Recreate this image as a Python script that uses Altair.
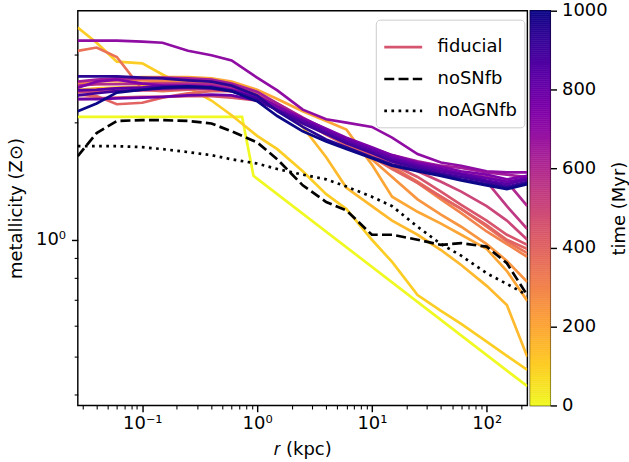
import altair as alt
import pandas as pd

# radial bins (kpc) shared by the profiles
R_GRID = [0.0274, 0.04, 0.06, 0.1, 0.15, 0.25, 0.4, 0.6, 1.0, 1.5, 2.5, 4, 6,
          10, 15, 25, 40, 60, 100, 150, 226]

# fiducial run: snapshot times (Myr) and metallicity profiles (Zsun)
TIMES = [100, 150, 200, 250, 300, 350, 400, 450, 500, 550, 600, 650, 700,
         750, 800, 850, 900, 950, 1000]
Z_PROFILES = [
    [3.51, 3.21, 2.87, 2.84, 2.66, 2.46, 2.28, 2.09, 1.85, 1.71, 1.50, 1.31, 1.20, 1.00, 0.877, 0.721, 0.656, 0.608, 0.547, 0.503, 0.463],
    [2.43, 2.45, 2.46, 2.48, 2.49, 2.51, 2.49, 2.45, 2.35, 2.19, 1.95, 1.63, 1.36, 1.22, 1.12, 1.03, 0.941, 0.861, 0.761, 0.680, 0.500],
    [2.52, 2.56, 2.60, 2.62, 2.62, 2.62, 2.60, 2.55, 2.43, 2.30, 2.14, 2.02, 1.92, 1.56, 1.29, 1.18, 1.10, 1.03, 0.947, 0.831, 0.696],
    [2.49, 2.51, 2.52, 2.52, 2.54, 2.54, 2.52, 2.48, 2.38, 2.24, 2.06, 1.90, 1.78, 1.61, 1.45, 1.27, 1.16, 1.08, 0.975, 0.882, 0.779],
    [2.52, 2.55, 2.57, 2.57, 2.56, 2.55, 2.53, 2.48, 2.36, 2.21, 2.04, 1.89, 1.78, 1.65, 1.54, 1.40, 1.27, 1.17, 1.05, 0.975, 0.903],
    [3.06, 3.12, 2.95, 2.43, 2.41, 2.43, 2.45, 2.43, 2.34, 2.19, 2.03, 1.88, 1.77, 1.64, 1.54, 1.41, 1.29, 1.20, 1.08, 0.99, 0.924],
    [2.36, 2.34, 2.23, 2.25, 2.32, 2.38, 2.41, 2.41, 2.32, 2.19, 2.02, 1.86, 1.75, 1.63, 1.52, 1.40, 1.29, 1.20, 1.09, 1.00, 0.947],
    [2.30, 2.31, 2.32, 2.33, 2.33, 2.34, 2.34, 2.32, 2.28, 2.17, 2.03, 1.89, 1.78, 1.66, 1.56, 1.45, 1.33, 1.23, 1.12, 1.03, 0.97],
    [2.40, 2.40, 2.41, 2.42, 2.43, 2.44, 2.44, 2.41, 2.34, 2.19, 2.02, 1.88, 1.77, 1.67, 1.59, 1.50, 1.41, 1.33, 1.22, 1.12, 1.00],
    [2.42, 2.43, 2.45, 2.46, 2.46, 2.48, 2.46, 2.42, 2.32, 2.18, 2.02, 1.89, 1.79, 1.69, 1.61, 1.55, 1.50, 1.47, 1.41, 1.22, 1.065],
    [2.49, 2.51, 2.51, 2.52, 2.52, 2.52, 2.51, 2.46, 2.35, 2.20, 2.04, 1.91, 1.81, 1.71, 1.63, 1.56, 1.52, 1.48, 1.45, 1.41, 1.22],
    [2.55, 2.58, 2.60, 2.60, 2.61, 2.60, 2.58, 2.52, 2.40, 2.24, 2.06, 1.92, 1.82, 1.72, 1.65, 1.59, 1.55, 1.53, 1.49, 1.47, 1.45],
    [3.25, 3.25, 3.25, 3.23, 3.21, 3.06, 2.98, 2.89, 2.61, 2.42, 2.16, 2.04, 2.00, 1.95, 1.83, 1.66, 1.58, 1.55, 1.50, 1.49, 1.49],
    [2.46, 2.55, 2.58, 2.52, 2.49, 2.49, 2.48, 2.43, 2.34, 2.20, 2.05, 1.93, 1.83, 1.73, 1.65, 1.58, 1.54, 1.50, 1.47, 1.43, 1.46],
    [2.30, 2.30, 2.31, 2.32, 2.33, 2.35, 2.36, 2.35, 2.28, 2.16, 2.03, 1.91, 1.81, 1.71, 1.63, 1.56, 1.52, 1.48, 1.44, 1.41, 1.44],
    [2.42, 2.43, 2.45, 2.46, 2.48, 2.48, 2.46, 2.42, 2.31, 2.16, 2.02, 1.89, 1.79, 1.69, 1.61, 1.55, 1.50, 1.47, 1.42, 1.39, 1.43],
    [2.35, 2.38, 2.41, 2.43, 2.45, 2.46, 2.45, 2.41, 2.30, 2.15, 1.99, 1.87, 1.77, 1.67, 1.59, 1.53, 1.48, 1.45, 1.41, 1.37, 1.41],
    [2.63, 2.63, 2.63, 2.61, 2.60, 2.57, 2.55, 2.49, 2.35, 2.14, 1.95, 1.81, 1.73, 1.63, 1.56, 1.51, 1.47, 1.43, 1.39, 1.36, 1.40],
    [2.14, 2.24, 2.39, 2.43, 2.46, 2.48, 2.46, 2.41, 2.27, 2.08, 1.90, 1.79, 1.71, 1.62, 1.55, 1.50, 1.46, 1.42, 1.38, 1.35, 1.39],
]

# initial condition (t = 0)
R_T0 = [0.0274, 0.74, 0.93, 226]
Z_T0 = [2.07, 2.07, 1.46, 0.42]

# comparison runs
Z_NOSNFB = [1.64, 1.88, 2.02, 2.03, 2.03, 2.02, 1.99, 1.90, 1.78, 1.61, 1.38, 1.25,
            1.19, 1.03, 1.03, 1.00, 0.97, 0.98, 0.96, 0.87, 0.72]
Z_NOAGNFB = [1.74, 1.74, 1.74, 1.73, 1.71, 1.68, 1.65, 1.61, 1.57, 1.52, 1.47, 1.43,
             1.37, 1.29, 1.22, 1.08, 0.975, 0.91, 0.82, 0.77, 0.72]

RUNS = ["fiducial", "noSNfb", "noAGNfb"]
FIDUCIAL_LEGEND_COLOR = "#d5546e"
X_MAJOR = [0.1, 1, 10, 100]
X_MINOR = [0.03, 0.04, 0.05, 0.06, 0.07, 0.08, 0.09, 0.2, 0.3, 0.4, 0.5, 0.6, 0.7,
           0.8, 0.9, 2, 3, 4, 5, 6, 7, 8, 9, 20, 30, 40, 50, 60, 70, 80, 90, 200]
Y_MAJOR = [1]
Y_MINOR = [0.4, 0.5, 0.6, 0.7, 0.8, 0.9, 2, 3]
CBAR_TICKS = [0, 200, 400, 600, 800, 1000]

FONT = "DejaVu Sans"
PT = 1.8  # px per pt

# ---------- tables ----------
rows = []
for r, z in zip(R_T0, Z_T0):
    rows.append({"time": 0, "r": r, "Z": z})
for t, prof in zip(TIMES, Z_PROFILES):
    for r, z in zip(R_GRID, prof):
        rows.append({"time": t, "r": r, "Z": z})
df_fid = pd.DataFrame(rows)

brows = []
for name, prof in [("noSNfb", Z_NOSNFB), ("noAGNfb", Z_NOAGNFB)]:
    for r, z in zip(R_GRID, prof):
        brows.append({"run": name, "r": r, "Z": z})
df_black = pd.DataFrame(brows)

cb_step = 5
df_cb = pd.DataFrame({"t0": list(range(0, 1000, cb_step))})
df_cb["t1"] = df_cb["t0"] + cb_step
df_cb["tm"] = df_cb["t0"] + cb_step / 2

xscale = alt.Scale(type="log", domain=[0.0274, 226], nice=False)
yscale = alt.Scale(type="log", domain=[0.375, 3.88], nice=False)
cscale = alt.Scale(scheme="plasma", reverse=True, domain=[0, 1000])

x_major = alt.Axis(values=X_MAJOR, grid=False, domain=False, orient="bottom",
                   tickSize=3.5 * PT, tickWidth=0.8 * PT, tickColor="black",
                   labelExpr="datum.value < 0.5 ? '10⁻¹' : datum.value < 5 ? '10⁰' : datum.value < 50 ? '10¹' : '10²'",
                   labelPadding=3, labelFlush=False,
                   title="𝑟 (kpc)", titlePadding=8)
x_minor = alt.Axis(values=X_MINOR, grid=False, domain=False, labels=False,
                   tickSize=2 * PT, tickWidth=0.6 * PT, tickColor="black",
                   title=None, orient="bottom")
y_major = alt.Axis(values=Y_MAJOR, grid=False, domain=False, orient="left",
                   tickSize=3.5 * PT, tickWidth=0.8 * PT, tickColor="black",
                   labelExpr="'10⁰'", labelPadding=6,
                   title="metallicity (Z⊙)", titlePadding=10)
y_minor = alt.Axis(values=Y_MINOR, grid=False, domain=False, labels=False,
                   tickSize=2 * PT, tickWidth=0.6 * PT, tickColor="black",
                   title=None, orient="left")

fid = alt.Chart(df_fid).mark_line(strokeWidth=1.5 * PT, clip=True).encode(
    x=alt.X("r:Q", scale=xscale, axis=x_major),
    y=alt.Y("Z:Q", scale=yscale, axis=y_major),
    color=alt.Color("time:Q", scale=cscale, legend=None),
    detail="time:N",
)

legend = alt.Legend(title=None, orient="none", legendX=299, legendY=9,
                    labelFontSize=18, labelFont=FONT, labelColor="black",
                    symbolType="stroke", symbolSize=1444, symbolStrokeWidth=1.5 * PT,
                    symbolStrokeColor=alt.ExprRef(
                        expr="datum.value === 'fiducial' ? '%s' : 'black'" % FIDUCIAL_LEGEND_COLOR),
                    fillColor="white", strokeColor="#cccccc", cornerRadius=4,
                    padding=7, rowPadding=2, labelOffset=14)

black = alt.Chart(df_black).mark_line(strokeWidth=1.5 * PT, clip=True, color="black").encode(
    x=alt.X("r:Q", scale=xscale, axis=None),
    y=alt.Y("Z:Q", scale=yscale, axis=None),
    strokeDash=alt.StrokeDash("run:N", scale=alt.Scale(domain=RUNS, range=[[1, 0], [10, 4.3], [2.7, 4.45]]),
                              legend=legend),
)

minor = alt.Chart(df_black).mark_line(opacity=0, clip=True).encode(
    x=alt.X("r:Q", scale=xscale, axis=x_minor),
    y=alt.Y("Z:Q", scale=yscale, axis=y_minor),
)

main = alt.layer(fid, black, minor).resolve_axis(x="independent", y="independent").properties(
    width=451, height=396)

cbar = alt.Chart(df_cb).mark_rect(strokeWidth=0.6).encode(
    x=alt.value(0), x2=alt.value(20),
    y=alt.Y("t0:Q", scale=alt.Scale(domain=[0, 1000], nice=False),
            axis=alt.Axis(orient="right", values=CBAR_TICKS, grid=False, domain=False, format="d",
                          tickSize=3.5 * PT, tickWidth=0.8 * PT, tickColor="black",
                          labelPadding=5, labelFlush=False,
                          title="time (Myr)", titleAngle=270, titleBaseline="top",
                          titlePadding=3)),
    y2="t1:Q",
    color=alt.Color("tm:Q", scale=cscale, legend=None),
    stroke=alt.Stroke("tm:Q", scale=cscale, legend=None),
).properties(width=20, height=396)

chart = alt.hconcat(main, cbar, spacing=0).properties(
    padding={"left": 6, "top": 0, "right": 0, "bottom": 0},
    background="white",
).configure_view(
    stroke="black", strokeWidth=0.8 * PT
).configure_axis(
    labelFont=FONT, titleFont=FONT, labelFontSize=18, titleFontSize=18,
    titleFontWeight="normal", labelColor="black", titleColor="black"
)

chart.save("out.html", embed_options={"renderer": "svg", "actions": False})
